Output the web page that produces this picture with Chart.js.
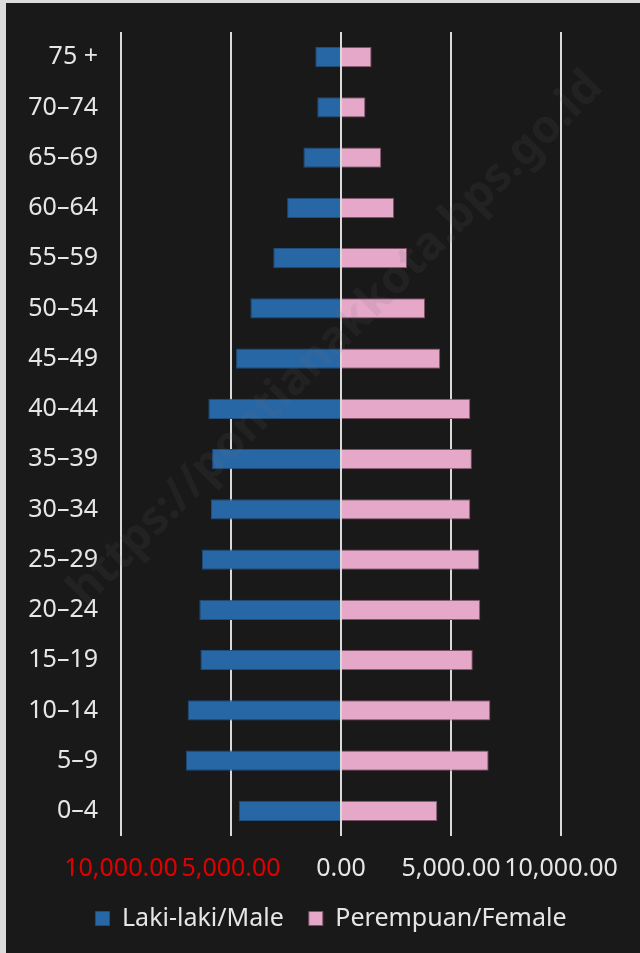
<!DOCTYPE html>
<html>
<head>
<meta charset="utf-8">
<script src="https://cdn.jsdelivr.net/npm/chart.js@4"></script>
<style>
    html, body { margin: 0; padding: 0; background: #dcdcdc; }
    #wrap { position: absolute; left: 6px; top: 3px; width: 634px; height: 950px; background: #191919; }
</style>
</head>
<body>
<div id="wrap"><canvas id="pyramidChart"></canvas></div>
<script>
// Age groups, top to bottom as in the picture
const ageGroups = ['75 +', '70–74', '65–69', '60–64', '55–59', '50–54', '45–49', '40–44',
    '35–39', '30–34', '25–29', '20–24', '15–19', '10–14', '5–9', '0–4'];

// Population per age group
const male = [1170, 1080, 1710, 2450, 3080, 4120, 4770, 6030, 5860, 5910, 6320, 6440, 6390, 6970, 7050, 4650];
const female = [1390, 1110, 1830, 2410, 3000, 3820, 4510, 5880, 5950, 5880, 6290, 6330, 5990, 6790, 6710, 4380];

const seriesNames = ['Laki-laki/Male', 'Perempuan/Female'];
const watermark = 'https://pontianakkota.bps.go.id';

const numFmt = new Intl.NumberFormat('en-US', { minimumFractionDigits: 2, maximumFractionDigits: 2 });

// vertical axis line at zero, drawn over the bars
const zeroLine = {
    id: 'zeroLine',
    afterDatasetsDraw(chart) {
        const x = chart.scales.x.getPixelForValue(0);
        const area = chart.chartArea;
        const c = chart.ctx;
        c.save();
        c.strokeStyle = '#d9d9d9';
        c.lineWidth = 2;
        c.beginPath();
        c.moveTo(x, area.top);
        c.lineTo(x, area.bottom);
        c.stroke();
        c.restore();
    }
};

// faint diagonal watermark
const watermarkPlugin = {
    id: 'watermark',
    afterDraw(chart) {
        const c = chart.ctx;
        c.save();
        c.translate(330, 336);
        c.rotate(-Math.PI / 4);
        c.font = 'bold 46px "Noto Sans"';
        c.textAlign = 'center';
        c.textBaseline = 'middle';
        c.fillStyle = 'rgba(110, 110, 110, 0.12)';
        c.fillText(watermark, 0, 0);
        c.restore();
    }
};

const font = { family: '"Noto Sans", sans-serif', size: 25 };

new Chart(document.getElementById('pyramidChart'), {
    type: 'bar',
    data: {
        labels: ageGroups,
        datasets: [{
            label: seriesNames[0],
            data: male.map(v => -v),
            backgroundColor: '#2867a6',
            borderColor: '#1f4d7c',
            borderWidth: 1,
            categoryPercentage: 1,
            barPercentage: 0.4
        }, {
            label: seriesNames[1],
            data: female,
            backgroundColor: '#e6a8c9',
            borderColor: '#7d5267',
            borderWidth: 1,
            categoryPercentage: 1,
            barPercentage: 0.4
        }]
    },
    options: {
        indexAxis: 'y',
        responsive: true,
        maintainAspectRatio: false,
        animation: false,
        layout: { padding: { left: 16, top: 29, right: 0, bottom: 12 } },
        plugins: {
            legend: {
                position: 'bottom',
                labels: { color: '#e6e6e6', font: font, boxWidth: 14, boxHeight: 14, padding: 25 }
            },
            tooltip: { enabled: false }
        },
        scales: {
            x: {
                stacked: true,
                min: -10000,
                max: 10000,
                afterFit: s => { s.height = 45; },
                grid: { color: '#d9d9d9', lineWidth: 2, drawTicks: false },
                border: { display: false },
                ticks: {
                    stepSize: 5000,
                    autoSkip: false,
                    maxRotation: 0,
                    minRotation: 0,
                    padding: 18,
                    font: font,
                    color: ctx => ctx.tick.value < 0 ? '#e00000' : '#e6e6e6',
                    callback: v => numFmt.format(Math.abs(v))
                }
            },
            y: {
                stacked: true,
                afterFit: s => { s.width = 99; },
                grid: { display: false, drawTicks: false },
                border: { display: false },
                ticks: { color: '#e6e6e6', font: { family: font.family, size: 25, lineHeight: 0.4 }, padding: 23 }
            },
            yRight: {
                type: 'category',
                position: 'right',
                afterFit: s => { s.width = 79; },
                grid: { display: false, drawTicks: false },
                border: { display: false },
                ticks: { display: false }
            }
        }
    },
    plugins: [zeroLine, watermarkPlugin]
});
</script>
</body>
</html>
